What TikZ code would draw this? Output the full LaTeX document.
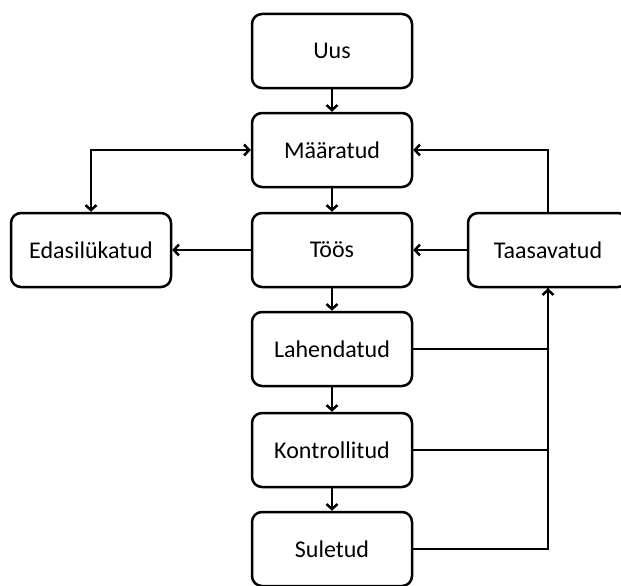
\documentclass[tikz,border=0pt]{standalone}
\usepackage{fontspec}
\setmainfont{Carlito}
\usetikzlibrary{arrows.meta}

\tikzset{
  state/.style={draw,rounded corners=10pt,line width=2.5pt,minimum width=160pt,
    minimum height=74pt,font=\fontsize{24}{28}\selectfont},
  arr/.style={line width=2.5pt,-{Straight Barb[length=5pt,width=11pt]}},
  arrs/.style={line width=2.5pt,{Straight Barb[length=5pt,width=11pt]}-{Straight Barb[length=5pt,width=11pt]}},
  ln/.style={line width=2.5pt}
}

\begin{document}
\begin{tikzpicture}[x=1pt,y=-1pt]
  \useasboundingbox (0,0) rectangle (621,586);
  \clip (0,0) rectangle (621,586);
  \node[state] (uus) at (332,51) {Uus};
  \node[state] (maar) at (332,150) {Määratud};
  \node[state] (toos) at (332,250) {Töös};
  \node[state] (lah) at (332,349) {Lahendatud};
  \node[state] (kontr) at (332,450) {Kontrollitud};
  \node[state] (sul) at (332,549) {Suletud};
  \node[state] (edasi) at (91,250) {Edasilükatud};
  \node[state] (taas) at (548,250) {Taasavatud};
  \draw[arr] (uus) -- (maar);
  \draw[arr] (maar) -- (toos);
  \draw[arr] (toos) -- (lah);
  \draw[arr] (lah) -- (kontr);
  \draw[arr] (kontr) -- (sul);
  \draw[arr] (toos) -- (edasi);
  \draw[arr] (taas) -- (toos);
  \draw[arrs] (edasi.north) |- (maar.west);
  \draw[arr] (taas.north) |- (maar.east);
  \draw[ln] (lah.east) -| (taas.south);
  \draw[ln] (kontr.east) -| (taas.south);
  \draw[arr] (sul.east) -| (taas.south);
\end{tikzpicture}
\end{document}
